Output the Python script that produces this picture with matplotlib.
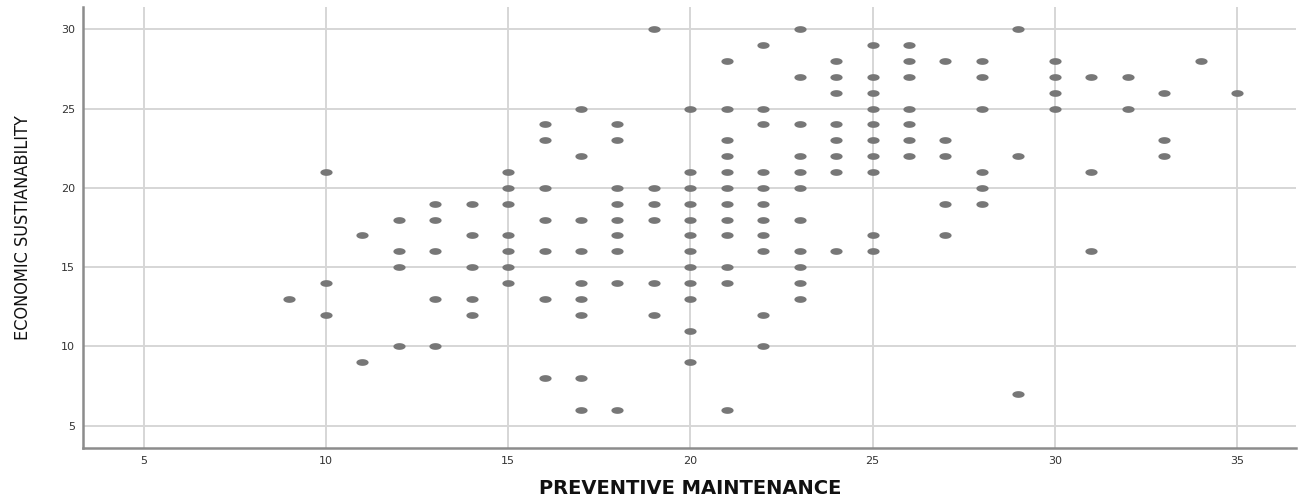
import numpy as np
import matplotlib
matplotlib.use('Agg')
import matplotlib.pyplot as plt
from matplotlib.path import Path

# one list of y values per x value (PREVENTIVE MAINTENANCE score)
pm_values = [9, 10, 11, 12, 13, 14, 15, 16, 17, 18, 19, 20, 21, 22,
             23, 24, 25, 26, 27, 28, 29, 30, 31, 32, 33, 34, 35]
es_values = [
    [13],
    [21, 14, 12],
    [17, 9],
    [18, 16, 15, 10],
    [19, 18, 16, 13, 10],
    [19, 17, 15, 13, 12],
    [21, 20, 19, 17, 16, 15, 14],
    [24, 23, 20, 18, 16, 13, 8],
    [25, 22, 18, 16, 14, 13, 12, 8, 6],
    [24, 23, 20, 19, 18, 17, 16, 14, 6],
    [30, 20, 19, 18, 14, 12],
    [25, 21, 20, 19, 18, 17, 16, 15, 14, 13, 11, 9],
    [28, 25, 23, 22, 21, 20, 19, 18, 17, 15, 14, 6],
    [29, 25, 24, 21, 20, 19, 18, 17, 16, 12, 10],
    [30, 27, 24, 22, 21, 20, 18, 16, 15, 14, 13],
    [28, 27, 26, 24, 23, 22, 21, 16],
    [29, 27, 26, 25, 24, 23, 22, 21, 17, 16],
    [29, 28, 27, 25, 24, 23, 22],
    [28, 23, 22, 19, 17],
    [28, 27, 25, 21, 20, 19],
    [30, 22, 7],
    [28, 27, 26, 25],
    [27, 21, 16],
    [27, 25],
    [26, 23, 22],
    [28],
    [26],
]
x_ticks = [5, 10, 15, 20, 25, 30, 35]
y_ticks = [5, 10, 15, 20, 25, 30]

x = []
y = []
for pm, es in zip(pm_values, es_values):
    for v in es:
        x.append(pm)
        y.append(v)

# flat ellipse marker like the SPSS dots
t = np.linspace(0, 2 * np.pi, 41)
ellipse = Path(np.column_stack([np.cos(t), 0.55 * np.sin(t)]), closed=True)

fig = plt.figure(figsize=(12.99, 4.99), dpi=100)
ax = fig.add_axes([0.064, 0.102, 0.934, 0.884])

ax.plot(x, y, linestyle='none', marker=ellipse, markersize=8.8,
        color='#777777', markeredgewidth=0, zorder=3)

ax.set_xlim(3.34, 36.63)
ax.set_ylim(3.59, 31.4)
ax.set_xticks(x_ticks)
ax.set_yticks(y_ticks)
ax.grid(True, color='#d6d6d6', linewidth=1.4, zorder=0)
ax.set_axisbelow(True)
ax.tick_params(length=0, labelsize=8, labelcolor='#333333', pad=6)
for lab in ax.get_xticklabels() + ax.get_yticklabels():
    lab.set_family('DejaVu Sans')

for side in ['top', 'right']:
    ax.spines[side].set_visible(False)
for side in ['left', 'bottom']:
    ax.spines[side].set_color('#8c8c8c')
    ax.spines[side].set_linewidth(1.8)

ax.set_xlabel('PREVENTIVE MAINTENANCE', fontsize=14, fontweight='bold',
              family=['DejaVu Sans'], color='#111111', labelpad=9)
ax.set_ylabel('ECONOMIC SUSTIANABILITY', fontsize=13, fontstretch='condensed',
              family=['DejaVu Sans'], color='#111111', labelpad=21)

plt.savefig('out.png', dpi=100)
